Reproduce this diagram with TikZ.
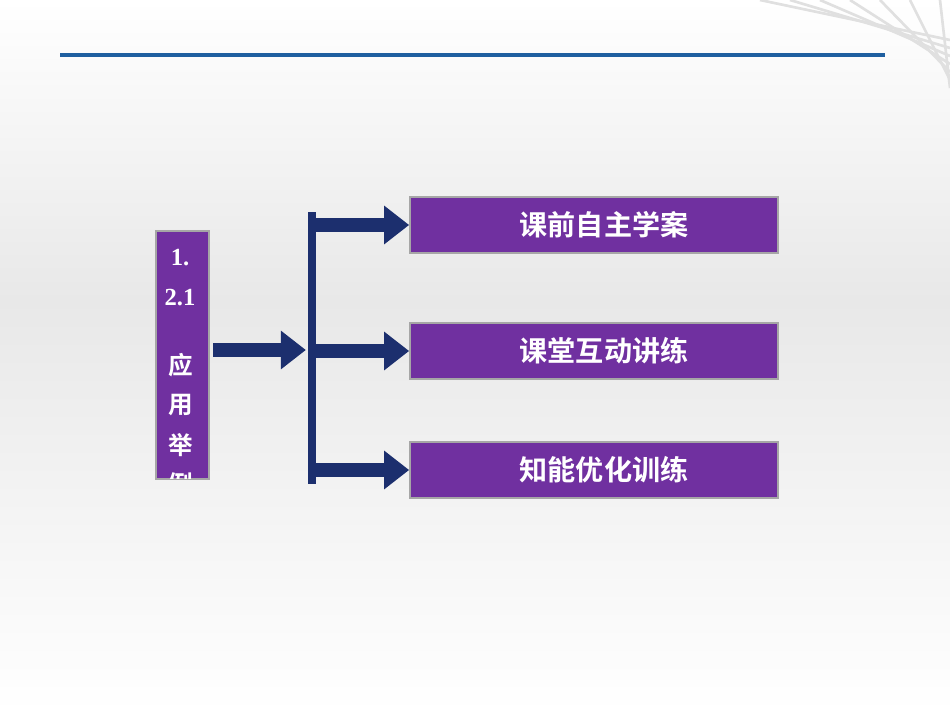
\documentclass[tikz,border=0pt]{standalone}
\usepackage{fontspec}
\setmainfont{Liberation Serif}
\newfontfamily\cjk{Noto Sans CJK SC}[BoldFont={Noto Sans CJK SC Bold}]
\usetikzlibrary{arrows.meta,positioning}
\definecolor{boxpurple}{HTML}{7030A0}
\definecolor{arrownavy}{HTML}{1C2F6E}
\definecolor{lineblue}{HTML}{1F5FA0}
\tikzset{
  menubox/.style={draw=black!35, line width=1pt, fill=boxpurple, minimum width=7.36cm,
    minimum height=1.12cm, text=white, font=\cjk\bfseries\fontsize{16}{18}\selectfont},
  fatarrow/.style={draw=arrownavy, line width=0.28cm,
    -{Triangle[length=0.5cm,width=0.74cm]}},
}
\begin{document}
\begin{tikzpicture}[x=0.02cm,y=-0.02cm]
%
\useasboundingbox (0,0) rectangle (950,713);
\shade[top color=white, bottom color=black!9] (0,0) rectangle (950,300);
\shade[top color=black!9, bottom color=white] (0,300) rectangle (950,713);
% corner stripes
\foreach \i in {0,...,6}
  \draw[black!12, line width=1.5pt] (760+\i*30,0) -- (950,40-\i*4+\i*12);
\draw[lineblue, line width=2pt] (60,55) -- (885,55);
%
\node[draw=black!35, line width=1pt, fill=boxpurple, minimum width=1.06cm, minimum height=4.96cm,
  anchor=north west, inner sep=0] (title) at (155,230) {};
\begin{scope}[white, font=\bfseries\fontsize{14}{16}\selectfont]
\node (t1) at (180,258) {1.};
\node (t2) at (180,298) {2.1};
\node[font=\cjk\bfseries\fontsize{14}{16}\selectfont] (t3) at (181,365) {应};
\node[font=\cjk\bfseries\fontsize{14}{16}\selectfont] (t4) at (181,405) {用};
\node[font=\cjk\bfseries\fontsize{14}{16}\selectfont] (t5) at (181,445) {举};
\end{scope}
\begin{scope}
\clip (155,230) rectangle (208,478);
\node[white, font=\cjk\bfseries\fontsize{14}{16}\selectfont] (t6) at (181,484) {例};
\end{scope}
%
\node[fill=arrownavy, minimum width=0.16cm, minimum height=5.44cm, inner sep=0] (bar) at (312,348) {};
%
\node[menubox, text width=7cm, align=center] (b1) at (594,225) {\hspace*{0.4cm}课前自主学案};
\node[menubox, text width=7cm, align=center] (b2) at (594,351) {\hspace*{0.4cm}课堂互动讲练};
\node[menubox, text width=7cm, align=center] (b3) at (594,470) {\hspace*{0.4cm}知能优化训练};
%
\coordinate (c0) at (213,350);
\draw[fatarrow] (c0) -- ([xshift=-1]bar.west |- c0);
\draw[fatarrow] (bar.east |- b1.west) -- ([xshift=0]b1.west);
\draw[fatarrow] (bar.east |- b2.west) -- ([xshift=0]b2.west);
\draw[fatarrow] (bar.east |- b3.west) -- ([xshift=0]b3.west);
%
\end{tikzpicture}
\end{document}
